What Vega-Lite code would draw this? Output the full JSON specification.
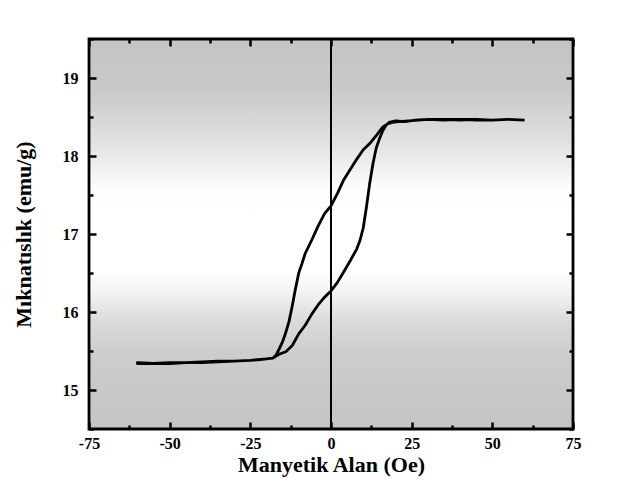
{
  "$schema": "https://vega.github.io/schema/vega-lite/v6.json",
  "width": 484,
  "height": 390,
  "padding": {"left": 12, "top": 37, "right": 10, "bottom": 5},
  "background": "white",
  "config": {
    "view": {"stroke": null},
    "font": "Liberation Serif",
    "axis": {
      "labelFont": "Liberation Serif",
      "labelFontWeight": "bold",
      "labelFontSize": 16,
      "labelColor": "black",
      "titleFont": "Liberation Serif",
      "titleFontWeight": "bold",
      "titleFontSize": 22,
      "titleColor": "black",
      "domain": false,
      "tickColor": "black",
      "tickWidth": 2.5,
      "grid": false
    }
  },
  "datasets": {
    "box": [{"x1": -75, "x2": 75, "y1": 14.5, "y2": 19.5}],
    "loop": [
      {"i": 1, "h": 60, "m": 18.46}, {"i": 2, "h": 55, "m": 18.47}, {"i": 3, "h": 50, "m": 18.46},
      {"i": 4, "h": 45, "m": 18.47}, {"i": 5, "h": 40, "m": 18.46}, {"i": 6, "h": 35, "m": 18.47},
      {"i": 7, "h": 30, "m": 18.47}, {"i": 8, "h": 27, "m": 18.46}, {"i": 9, "h": 24, "m": 18.45},
      {"i": 10, "h": 21, "m": 18.44}, {"i": 11, "h": 19, "m": 18.43}, {"i": 12, "h": 17.5, "m": 18.41},
      {"i": 13, "h": 16, "m": 18.37}, {"i": 14, "h": 14, "m": 18.26}, {"i": 15, "h": 12, "m": 18.16},
      {"i": 16, "h": 10, "m": 18.08}, {"i": 17, "h": 8, "m": 17.96}, {"i": 18, "h": 6, "m": 17.83},
      {"i": 19, "h": 4, "m": 17.7}, {"i": 20, "h": 2, "m": 17.52}, {"i": 21, "h": 0, "m": 17.36},
      {"i": 22, "h": -2, "m": 17.26}, {"i": 23, "h": -4, "m": 17.1}, {"i": 24, "h": -6, "m": 16.92},
      {"i": 25, "h": -8, "m": 16.75}, {"i": 26, "h": -9, "m": 16.62}, {"i": 27, "h": -10, "m": 16.5},
      {"i": 28, "h": -11, "m": 16.3}, {"i": 29, "h": -12, "m": 16.08}, {"i": 30, "h": -13, "m": 15.88},
      {"i": 31, "h": -14, "m": 15.74}, {"i": 32, "h": -15, "m": 15.62}, {"i": 33, "h": -16, "m": 15.53},
      {"i": 34, "h": -17, "m": 15.45}, {"i": 35, "h": -18, "m": 15.41}, {"i": 36, "h": -20, "m": 15.4},
      {"i": 37, "h": -22, "m": 15.39}, {"i": 38, "h": -25, "m": 15.38}, {"i": 39, "h": -30, "m": 15.37},
      {"i": 40, "h": -35, "m": 15.36}, {"i": 41, "h": -40, "m": 15.35}, {"i": 42, "h": -45, "m": 15.35},
      {"i": 43, "h": -50, "m": 15.34}, {"i": 44, "h": -55, "m": 15.34}, {"i": 45, "h": -60, "m": 15.34},
      {"i": 46, "h": -60, "m": 15.35}, {"i": 47, "h": -55, "m": 15.34}, {"i": 48, "h": -50, "m": 15.35},
      {"i": 49, "h": -45, "m": 15.35}, {"i": 50, "h": -40, "m": 15.36}, {"i": 51, "h": -35, "m": 15.37},
      {"i": 52, "h": -30, "m": 15.37}, {"i": 53, "h": -25, "m": 15.38}, {"i": 54, "h": -20, "m": 15.4},
      {"i": 55, "h": -18, "m": 15.41}, {"i": 56, "h": -16, "m": 15.46}, {"i": 57, "h": -14, "m": 15.49},
      {"i": 58, "h": -12, "m": 15.57}, {"i": 59, "h": -10, "m": 15.72}, {"i": 60, "h": -8, "m": 15.83},
      {"i": 61, "h": -6, "m": 15.97}, {"i": 62, "h": -4, "m": 16.09}, {"i": 63, "h": -2, "m": 16.19},
      {"i": 64, "h": 0, "m": 16.27}, {"i": 65, "h": 2, "m": 16.38}, {"i": 66, "h": 4, "m": 16.52},
      {"i": 67, "h": 6, "m": 16.66}, {"i": 68, "h": 8, "m": 16.81}, {"i": 69, "h": 9, "m": 16.92},
      {"i": 70, "h": 10, "m": 17.08}, {"i": 71, "h": 11, "m": 17.35}, {"i": 72, "h": 12, "m": 17.65},
      {"i": 73, "h": 13, "m": 17.9}, {"i": 74, "h": 14, "m": 18.1}, {"i": 75, "h": 15, "m": 18.22},
      {"i": 76, "h": 16, "m": 18.32}, {"i": 77, "h": 17, "m": 18.39}, {"i": 78, "h": 18, "m": 18.43},
      {"i": 79, "h": 20, "m": 18.45}, {"i": 80, "h": 23, "m": 18.44}, {"i": 81, "h": 26, "m": 18.46},
      {"i": 82, "h": 30, "m": 18.47}, {"i": 83, "h": 35, "m": 18.46}, {"i": 84, "h": 40, "m": 18.47},
      {"i": 85, "h": 45, "m": 18.46}, {"i": 86, "h": 50, "m": 18.46}, {"i": 87, "h": 55, "m": 18.47},
      {"i": 88, "h": 60, "m": 18.46}
    ]
  },
  "resolve": {"axis": {"x": "independent", "y": "independent"}},
  "layer": [
    {
      "data": {"name": "box"},
      "mark": {
        "type": "rect",
        "stroke": "black",
        "strokeWidth": 2.8,
        "color": {
          "gradient": "linear", "x1": 0, "y1": 0, "x2": 0, "y2": 1,
          "stops": [
            {"offset": 0, "color": "#c4c4c4"},
            {"offset": 0.13, "color": "#c9c9c9"},
            {"offset": 0.26, "color": "#e0e0e0"},
            {"offset": 0.39, "color": "#fefefe"},
            {"offset": 0.59, "color": "#ffffff"},
            {"offset": 0.64, "color": "#f6f6f6"},
            {"offset": 0.72, "color": "#dcdcdc"},
            {"offset": 0.8, "color": "#cdcdcd"},
            {"offset": 1, "color": "#c4c4c4"}
          ]
        }
      },
      "encoding": {
        "x": {
          "field": "x1", "type": "quantitative",
          "scale": {"domain": [-75, 75], "nice": false, "zero": false},
          "axis": {
            "orient": "bottom",
            "title": "Manyetik Alan (Oe)",
            "values": [-75, -50, -25, 0, 25, 50, 75],
            "labelExpr": "'' + datum.value",
            "offset": -7,
            "tickSize": 7,
            "labelPadding": 6,
            "labelFlush": false,
            "titlePadding": 3,
            "zindex": 3
          }
        },
        "x2": {"field": "x2"},
        "y": {
          "field": "y1", "type": "quantitative",
          "scale": {"domain": [14.5, 19.5], "nice": false, "zero": false},
          "axis": {
            "orient": "left",
            "title": "Mıknatıslık (emu/g)",
            "values": [15, 16, 17, 18, 19],
            "labelExpr": "'' + datum.value",
            "offset": -7,
            "tickSize": 7,
            "labelPadding": 11,
            "labelFlush": false,
            "titlePadding": 27,
            "zindex": 3
          }
        },
        "y2": {"field": "y2"}
      }
    },
    {
      "data": {"name": "box"},
      "mark": {"type": "rule", "color": "black", "strokeWidth": 2},
      "encoding": {
        "x": {
          "datum": 0, "type": "quantitative",
          "axis": {
            "orient": "top", "title": null, "labels": false,
            "values": [-75, -50, -25, 0, 25, 50, 75],
            "offset": -7,
            "tickSize": 7,
            "zindex": 3
          }
        }
      }
    },
    {
      "data": {"name": "loop"},
      "mark": {"type": "line", "color": "black", "strokeWidth": 2.8, "strokeJoin": "round"},
      "encoding": {
        "x": {
          "field": "h", "type": "quantitative",
          "axis": {
            "orient": "bottom", "title": null, "labels": false,
            "values": [-62.5, -37.5, -12.5, 12.5, 37.5, 62.5],
            "offset": -4,
            "tickSize": 4,
            "zindex": 3
          }
        },
        "y": {
          "field": "m", "type": "quantitative",
          "axis": {
            "orient": "right", "title": null, "labels": false,
            "values": [15, 16, 17, 18, 19],
            "offset": -7,
            "tickSize": 7,
            "zindex": 3
          }
        },
        "order": {"field": "i", "type": "quantitative"}
      }
    },
    {
      "data": {"name": "box"},
      "mark": {"type": "rect", "opacity": 0},
      "encoding": {
        "x": {
          "field": "x1", "type": "quantitative",
          "axis": {
            "orient": "top", "title": null, "labels": false,
            "values": [-62.5, -37.5, -12.5, 12.5, 37.5, 62.5],
            "offset": -4,
            "tickSize": 4,
            "zindex": 3
          }
        },
        "x2": {"field": "x2"},
        "y": {
          "field": "y1", "type": "quantitative",
          "axis": {
            "orient": "left", "title": null, "labels": false,
            "values": [14.5, 15.5, 16.5, 17.5, 18.5, 19.5],
            "offset": -4,
            "tickSize": 4,
            "zindex": 3
          }
        },
        "y2": {"field": "y2"}
      }
    },
    {
      "data": {"name": "box"},
      "mark": {"type": "rect", "opacity": 0},
      "encoding": {
        "x": {"field": "x1", "type": "quantitative", "axis": null},
        "x2": {"field": "x2"},
        "y": {
          "field": "y1", "type": "quantitative",
          "axis": {
            "orient": "right", "title": null, "labels": false,
            "values": [14.5, 15.5, 16.5, 17.5, 18.5, 19.5],
            "offset": -4,
            "tickSize": 4,
            "zindex": 3
          }
        },
        "y2": {"field": "y2"}
      }
    }
  ]
}
